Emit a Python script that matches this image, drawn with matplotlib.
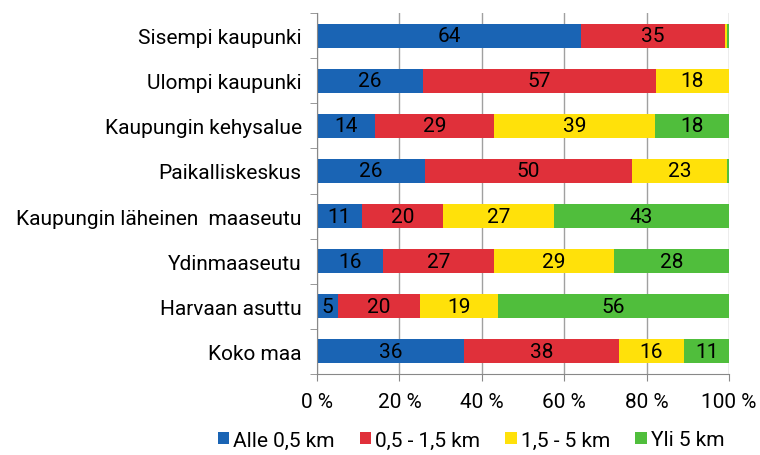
import matplotlib
matplotlib.use("Agg")
import matplotlib.pyplot as plt
import numpy as np

categories = ["Sisempi kaupunki", "Ulompi kaupunki", "Kaupungin kehysalue", "Paikalliskeskus",
              "Kaupungin läheinen  maaseutu", "Ydinmaaseutu", "Harvaan asuttu", "Koko maa"]
series_names = ["Alle 0,5 km", "0,5 - 1,5 km", "1,5 - 5 km", "Yli 5 km"]
alle05 = [64, 26, 14, 26, 11, 16, 5, 36]
v05_15 = [35, 57, 29, 50, 20, 27, 20, 38]
v15_5 = [0.6, 18, 39, 23, 27, 29, 19, 16]
yli5 = [0.4, 0, 18, 0.5, 43, 28, 56, 11]
xticklabels = ["0 %", "20 %", "40 %", "60 %", "80 %", "100 %"]

COLORS = ["#1A64B4", "#E0303A", "#FFE10A", "#50BE3C"]
FONT = ["Roboto", "DejaVu Sans"]
plt.rcParams["font.family"] = FONT

data = np.array([alle05, v05_15, v15_5, yli5], dtype=float)
pct = data / data.sum(axis=0) * 100

fig = plt.figure(figsize=(7.6, 4.56), dpi=100)
ax = fig.add_axes([317 / 760, 1 - 375 / 456, (729 - 317) / 760, (375 - 14) / 456])

y = np.arange(len(categories))
left = np.zeros(len(categories))
handles = []
for i, name in enumerate(series_names):
    bars = ax.barh(y, pct[i], left=left, height=0.53, color=COLORS[i], zorder=2, label=name)
    handles.append(bars)
    for j in range(len(categories)):
        if data[i, j] >= 3:
            ax.text(left[j] + pct[i, j] / 2, y[j], f"{int(data[i, j])}", ha="center", va="center",
                    fontsize=15, color="black", zorder=3)
    left += pct[i]

ax.set_ylim(len(categories) - 0.5, -0.5)
ax.set_xlim(0, 100)
ax.set_yticks(y)
ax.set_yticklabels(categories, fontsize=15)
ax.set_yticks(np.arange(-0.5, len(categories) + 0.5, 1), minor=True)
ax.tick_params(axis="y", which="major", length=0, pad=11)
ax.tick_params(axis="y", which="minor", length=5, color="#888888")
ax.set_xticks(np.arange(0, 101, 20))
ax.set_xticklabels(xticklabels, fontsize=15)
ax.tick_params(axis="x", length=5, color="#888888", pad=8)
ax.grid(axis="x", color="#A0A0A0", linewidth=1, zorder=0)
for s in ["top", "right"]:
    ax.spines[s].set_visible(False)
for s in ["left", "bottom"]:
    ax.spines[s].set_color("#888888")

fig.legend(handles=handles, loc="center", bbox_to_anchor=(471 / 760, 1 - 441 / 456), ncol=4,
           frameon=False, fontsize=15, handlelength=0.55, handleheight=0.55, handletextpad=0.2,
           columnspacing=1.2)

plt.savefig("out.png", dpi=100)
plt.close()
